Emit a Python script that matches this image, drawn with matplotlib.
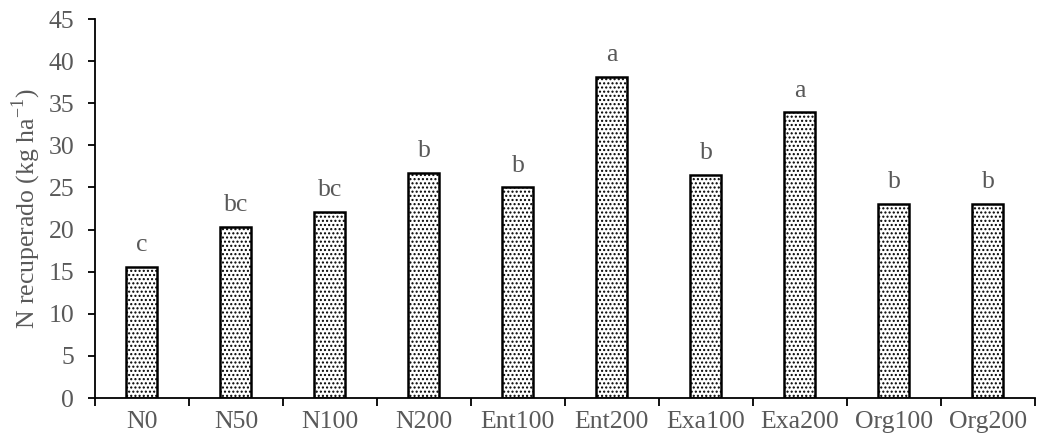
import numpy as np
import matplotlib
matplotlib.use("Agg")
import matplotlib.pyplot as plt

plt.rcParams['font.family'] = ['Liberation Serif', 'DejaVu Serif']
plt.rcParams['mathtext.fontset'] = 'custom'
plt.rcParams['mathtext.rm'] = 'Liberation Serif'
plt.rcParams['hatch.linewidth'] = 1.0

# data
categories = ['N0', 'N50', 'N100', 'N200', 'Ent100', 'Ent200',
              'Exa100', 'Exa200', 'Org100', 'Org200']
values = [15.6, 20.3, 22.1, 26.7, 25.0, 38.1, 26.5, 33.9, 23.0, 23.0]
letters = ['c', 'bc', 'bc', 'b', 'b', 'a', 'b', 'a', 'b', 'b']
yticks = list(range(0, 50, 5))

txt = '#595959'
fs = 18.5

fig = plt.figure(figsize=(10.37, 4.42), dpi=100)
ax = fig.add_axes([0.0916, 0.0995, 0.9064, 0.8575])

x = np.arange(len(categories))
ax.bar(x, values, width=0.33, color='white', edgecolor='black',
       linewidth=1.8, hatch='....')

for xi, v, lab in zip(x, values, letters):
    ax.text(xi, v + 1.3, lab, ha='center', va='bottom', fontsize=fs, color=txt)

ax.set_xlim(-0.5, len(categories) - 0.5)
ax.set_ylim(0, 45)
ax.set_yticks(yticks)
ax.tick_params(axis='y', labelsize=fs, labelcolor=txt, length=5, width=1.3,
               pad=10)

# category labels centred, ticks between categories
ax.set_xticks(x)
ax.set_xticklabels(categories)
ax.tick_params(axis='x', which='major', length=0, labelsize=fs,
               labelcolor=txt, pad=9)
ax.set_xticks(np.arange(len(categories) + 1) - 0.5, minor=True)
ax.tick_params(axis='x', which='minor', length=6, width=1.3)

ax.set_ylabel('N recuperado (kg ha$^{\\mathregular{-1}}$)', fontsize=fs,
              color=txt, labelpad=4)

for s in ['top', 'right']:
    ax.spines[s].set_visible(False)
for s in ['left', 'bottom']:
    ax.spines[s].set_linewidth(1.3)

fig.savefig('out.png', dpi=100)
